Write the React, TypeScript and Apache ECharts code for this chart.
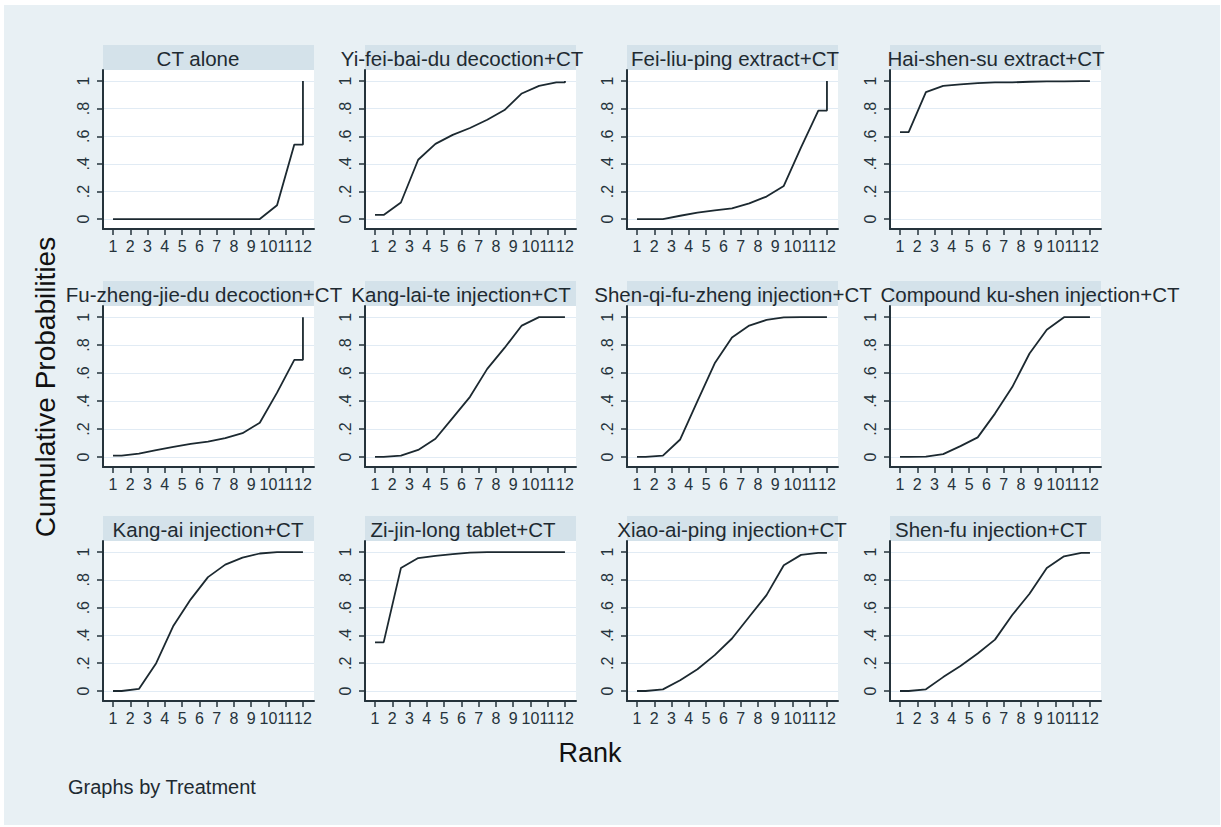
import React, { useEffect, useRef } from "react";
import * as echarts from "echarts";

// ---------- data ----------
const panelTitles = [
  "CT alone",
  "Yi-fei-bai-du decoction+CT",
  "Fei-liu-ping extract+CT",
  "Hai-shen-su extract+CT",
  "Fu-zheng-jie-du decoction+CT",
  "Kang-lai-te injection+CT",
  "Shen-qi-fu-zheng injection+CT",
  "Compound ku-shen injection+CT",
  "Kang-ai injection+CT",
  "Zi-jin-long tablet+CT",
  "Xiao-ai-ping injection+CT",
  "Shen-fu injection+CT",
];

// cumulative probability of being ranked at or better than rank 1..12
const ctAlone = [0, 0, 0, 0, 0, 0, 0, 0, 0, 0.1, 0.54, 1];
const yiFeiBaiDu = [0.03, 0.12, 0.43, 0.545, 0.61, 0.66, 0.72, 0.79, 0.91, 0.965, 0.99, 1];
const feiLiuPing = [0, 0, 0.024, 0.046, 0.063, 0.078, 0.114, 0.163, 0.24, 0.52, 0.786, 1];
const haiShenSu = [0.63, 0.92, 0.965, 0.976, 0.985, 0.99, 0.99, 0.995, 0.997, 0.998, 0.999, 1];
const fuZhengJieDu = [0.01, 0.024, 0.048, 0.072, 0.094, 0.11, 0.135, 0.17, 0.245, 0.46, 0.695, 1];
const kangLaiTe = [0, 0.01, 0.05, 0.13, 0.28, 0.43, 0.63, 0.78, 0.94, 1, 1, 1];
const shenQiFuZheng = [0, 0.01, 0.125, 0.4, 0.67, 0.855, 0.94, 0.98, 0.998, 1, 1, 1];
const compoundKuShen = [0, 0.002, 0.02, 0.077, 0.14, 0.31, 0.5, 0.74, 0.91, 1, 1, 1];
const kangAi = [0, 0.015, 0.2, 0.47, 0.66, 0.82, 0.91, 0.96, 0.99, 1, 1, 1];
const ziJinLong = [0.35, 0.885, 0.957, 0.973, 0.985, 0.997, 1, 1, 1, 1, 1, 1];
const xiaoAiPing = [0, 0.012, 0.077, 0.157, 0.258, 0.378, 0.535, 0.69, 0.905, 0.98, 0.995, 1];
const shenFu = [0, 0.012, 0.1, 0.18, 0.27, 0.37, 0.547, 0.7, 0.885, 0.97, 0.995, 1];

const panelValues = [
  ctAlone, yiFeiBaiDu, feiLiuPing, haiShenSu,
  fuZhengJieDu, kangLaiTe, shenQiFuZheng, compoundKuShen,
  kangAi, ziJinLong, xiaoAiPing, shenFu,
];

const rankTicks = [1, 2, 3, 4, 5, 6, 7, 8, 9, 10, 11, 12];
const yTicks = [0, 0.2, 0.4, 0.6, 0.8, 1];
const yTickLabels = ["0", ".2", ".4", ".6", ".8", "1"];

const yAxisTitle = "Cumulative Probabilities";
const xAxisTitle = "Rank";
const noteText = "Graphs by Treatment";

// ---------- layout ----------
const FONT = '"Liberation Sans", Arial, Helvetica, sans-serif';
const colLeft = [103, 365, 627, 890];
const rowTop = [70, 306, 541];
const rowBottom = [229, 467, 701];
const panelW = 211;
const barH = 25;
const dark = "#25333b";
const titleCenterX = [198, 462, 735, 996, 204, 461, 733, 1030, 208, 463, 732, 991];

// Stata-like connected line: value of rank k drawn at k+0.5, ends at 12
function stepPoints(c: number[]): number[][] {
  const pts: number[][] = [[rankTicks[0], c[0]]];
  for (let k = 0; k < 11; k++) pts.push([rankTicks[k] + 0.5, c[k]]);
  pts.push([rankTicks[11], c[10]]);
  pts.push([rankTicks[11], c[11]]);
  return pts;
}

function yLabel(v: number): string {
  for (let i = 0; i < yTicks.length; i++) {
    if (Math.abs(v - yTicks[i]) < 1e-6) return yTickLabels[i];
  }
  return "";
}

export default function App() {
  const ref = useRef<HTMLDivElement>(null);

  useEffect(() => {
    document.body.style.margin = "0";
    if (!ref.current) return;
    const chart = echarts.init(ref.current, null, { renderer: "svg" });

    const grids: any[] = [];
    const xAxes: any[] = [];
    const yAxes: any[] = [];
    const series: any[] = [];
    const graphics: any[] = [];

    // white frame edges
    graphics.push(
      { type: "rect", shape: { x: 0, y: 0, width: 1221, height: 5 }, style: { fill: "#ffffff" }, silent: true },
      { type: "rect", shape: { x: 0, y: 0, width: 4, height: 827 }, style: { fill: "#ffffff" }, silent: true },
      { type: "rect", shape: { x: 0, y: 825, width: 1221, height: 2 }, style: { fill: "#ffffff" }, silent: true },
      { type: "rect", shape: { x: 1220, y: 0, width: 1, height: 827 }, style: { fill: "#ffffff" }, silent: true }
    );

    panelValues.forEach((vals, i) => {
      const col = i % 4;
      const row = Math.floor(i / 4);
      const left = colLeft[col];
      const top = rowTop[row];
      const height = rowBottom[row] - top;
      grids.push({
        left,
        top,
        width: panelW,
        height,
        show: true,
        backgroundColor: "#ffffff",
        borderWidth: 0,
      });
      xAxes.push({
        gridIndex: i,
        type: "value",
        min: 0.42,
        max: 12.64,
        axisLine: { show: true, onZero: false, lineStyle: { color: dark, width: 2 } },
        axisTick: { show: true, customValues: rankTicks, length: 6, lineStyle: { color: dark, width: 1.5 } },
        axisLabel: {
          customValues: rankTicks,
          fontSize: 16,
          fontFamily: FONT,
          color: dark,
          margin: 9,
        },
        splitLine: { show: false },
      });
      yAxes.push({
        gridIndex: i,
        type: "value",
        min: -0.072,
        max: 1.08,
        axisLine: { show: true, onZero: false, lineStyle: { color: dark, width: 2 } },
        axisTick: { show: true, customValues: yTicks, length: 6, lineStyle: { color: dark, width: 1.5 } },
        axisLabel: {
          customValues: yTicks,
          rotate: 90,
          fontSize: 16,
          fontFamily: FONT,
          color: dark,
          margin: 12,
          formatter: (v: number) => yLabel(v),
        },
        splitLine: { show: true, lineStyle: { color: "#e1ebf4", width: 1.2 } },
      });
      series.push({
        type: "line",
        xAxisIndex: i,
        yAxisIndex: i,
        data: stepPoints(vals),
        showSymbol: false,
        symbol: "none",
        silent: true,
        lineStyle: { color: "#1c2930", width: 1.8 },
      });
      graphics.push({
        type: "rect",
        shape: { x: left, y: top - barH, width: panelW, height: barH },
        style: { fill: "#d4e2ea" },
        silent: true,
      });
      graphics.push({
        type: "text",
        x: titleCenterX[i],
        y: top - barH / 2 + 0.5,
        style: {
          text: panelTitles[i],
          font: `20.5px ${FONT}`,
          fill: "#1e2a31",
          align: "center",
          verticalAlign: "middle",
        },
        silent: true,
      });
    });

    graphics.push(
      {
        type: "text",
        x: 45,
        y: 387,
        rotation: Math.PI / 2,
        style: {
          text: yAxisTitle,
          font: `28px ${FONT}`,
          fill: "#111111",
          align: "center",
          verticalAlign: "middle",
        },
        silent: true,
      },
      {
        type: "text",
        x: 590,
        y: 753,
        style: {
          text: xAxisTitle,
          font: `27px ${FONT}`,
          fill: "#111111",
          align: "center",
          verticalAlign: "middle",
        },
        silent: true,
      },
      {
        type: "text",
        x: 68,
        y: 787,
        style: {
          text: noteText,
          font: `20px ${FONT}`,
          fill: "#1e2a31",
          align: "left",
          verticalAlign: "middle",
        },
        silent: true,
      }
    );

    chart.setOption({
      animation: false,
      backgroundColor: "#e8f0f4",
      grid: grids,
      xAxis: xAxes,
      yAxis: yAxes,
      series,
      graphic: { elements: graphics },
    });

    return () => chart.dispose();
  }, []);

  return <div ref={ref} style={{ width: 1221, height: 827 }} />;
}
